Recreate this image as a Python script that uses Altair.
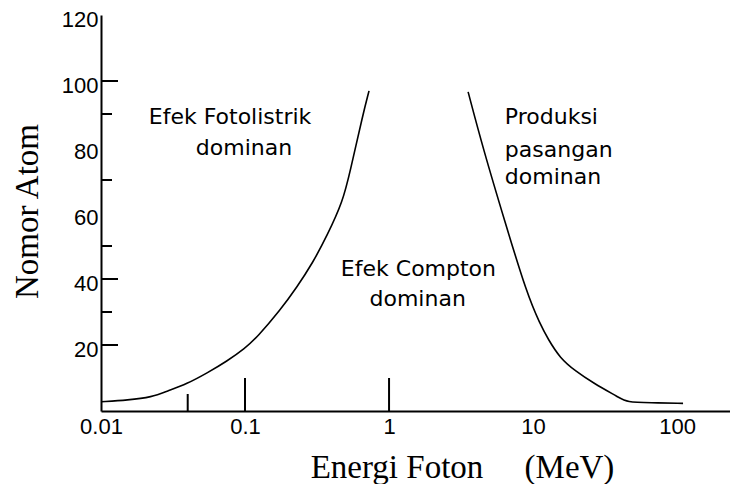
import altair as alt
import pandas as pd

# Boundary curve: photoelectric / Compton
left_energy = [0.01, 0.0154, 0.0226, 0.0287, 0.0395, 0.0545, 0.075, 0.1, 0.121,
               0.175, 0.229, 0.296, 0.37, 0.478, 0.536, 0.66, 0.726]
left_z = [2.8, 3.3, 4.2, 6.0, 8.2, 11.5, 15.1, 19.0, 22.3,
          30.5, 37.5, 45.0, 53.0, 63.5, 72.5, 90.0, 97.0]

# Boundary curve: Compton / pair production
right_energy = [3.54, 4.50, 6.37, 9.08, 11.2, 12.7, 15.4, 19.7, 26.1,
                40.2, 44.4, 65.0, 110.0]
right_z = [96.7, 79.5, 57.4, 35.4, 26.3, 21.8, 16.0, 12.1, 8.5,
           3.9, 2.7, 2.5, 2.3]

x_tick_labels = [0.01, 0.1, 1, 10, 100]
y_tick_labels = [20, 40, 60, 80, 100, 120]
y_ticks_long = [20, 40, 100]
y_ticks_short = [30, 50, 70, 90]
x_ticks_long = [0.1, 1]
x_ticks_short = [0.04]

center_texts = ["Efek Fotolistrik", "dominan", "Efek Compton", "dominan"]
center_text_e = [0.0787, 0.0983, 1.6, 1.58]
center_text_z = [87.1, 77.7, 40.8, 31.7]

left_texts = ["Produksi", "pasangan", "dominan"]
left_text_e = [6.37, 6.37, 6.37]
left_text_z = [87.1, 77.1, 68.9]

curves = pd.DataFrame({
    "E": left_energy + right_energy,
    "Z": left_z + right_z,
    "curve": ["kiri"] * len(left_energy) + ["kanan"] * len(right_energy),
})

W, H = 629, 396
xscale = alt.Scale(type="log", domain=[0.01, 233], nice=False)
yscale = alt.Scale(domain=[0, 120], nice=False, zero=False)

x_axis = alt.Axis(
    values=x_tick_labels, format="~g", ticks=False, grid=False,
    domainColor="black", domainWidth=2,
    labelFont="Liberation Sans", labelFontSize=22, labelColor="black", labelPadding=5,
    labelFlush=False, labelOverlap=False,
    title="Energi\u00a0Foton\u00a0\u00a0\u00a0\u00a0\u00a0(MeV)",
    titleFont="Liberation Serif", titleFontSize=33, titleFontWeight="normal",
    titleColor="black", titleX=361, titleY=66, titleAlign="center",
    titleBaseline="alphabetic",
)
y_axis = alt.Axis(
    values=y_tick_labels, ticks=False, grid=False,
    domainColor="black", domainWidth=2,
    labelFont="Liberation Sans", labelFontSize=22, labelColor="black", labelPadding=3,
    labelOffset=4, labelFlush=False, labelOverlap=False,
    title="Nomor Atom",
    titleFont="Liberation Serif", titleFontSize=33, titleFontWeight="normal",
    titleColor="black", titleX=-64, titleY=196, titleAlign="center",
    titleBaseline="alphabetic", titleAngle=270,
)

lines = alt.Chart(curves).mark_line(color="black", strokeWidth=1.6, interpolate="basis").encode(
    x=alt.X("E:Q", scale=xscale, axis=x_axis),
    y=alt.Y("Z:Q", scale=yscale, axis=y_axis),
    detail="curve:N",
)

ytl = alt.Chart(pd.DataFrame({"Z": y_ticks_long})).mark_rule(color="black", strokeWidth=2).encode(
    y=alt.Y("Z:Q", scale=yscale), x=alt.value(0), x2=alt.value(17))
yts = alt.Chart(pd.DataFrame({"Z": y_ticks_short})).mark_rule(color="black", strokeWidth=2).encode(
    y=alt.Y("Z:Q", scale=yscale), x=alt.value(0), x2=alt.value(11))
xtl = alt.Chart(pd.DataFrame({"E": x_ticks_long})).mark_rule(color="black", strokeWidth=2).encode(
    x=alt.X("E:Q", scale=xscale), y=alt.value(H), y2=alt.value(H - 33))
xts = alt.Chart(pd.DataFrame({"E": x_ticks_short})).mark_rule(color="black", strokeWidth=2).encode(
    x=alt.X("E:Q", scale=xscale), y=alt.value(H), y2=alt.value(H - 17))

txt_c = alt.Chart(pd.DataFrame({"E": center_text_e, "Z": center_text_z, "t": center_texts})).mark_text(
    font="DejaVu Sans", fontSize=22, color="black", align="center", baseline="alphabetic"
).encode(x=alt.X("E:Q", scale=xscale), y=alt.Y("Z:Q", scale=yscale), text="t:N")
txt_l = alt.Chart(pd.DataFrame({"E": left_text_e, "Z": left_text_z, "t": left_texts})).mark_text(
    font="DejaVu Sans", fontSize=22, color="black", align="left", baseline="alphabetic"
).encode(x=alt.X("E:Q", scale=xscale), y=alt.Y("Z:Q", scale=yscale), text="t:N")

chart = alt.layer(lines, ytl, yts, xtl, xts, txt_c, txt_l).properties(
    width=W, height=H,
    autosize=alt.AutoSizeParams(type="none"),
    padding={"left": 93, "top": 7, "right": 0, "bottom": 73},
    background="white",
).configure_view(strokeWidth=0)

chart.save("out.html", embed_options={"renderer": "svg", "actions": False})
